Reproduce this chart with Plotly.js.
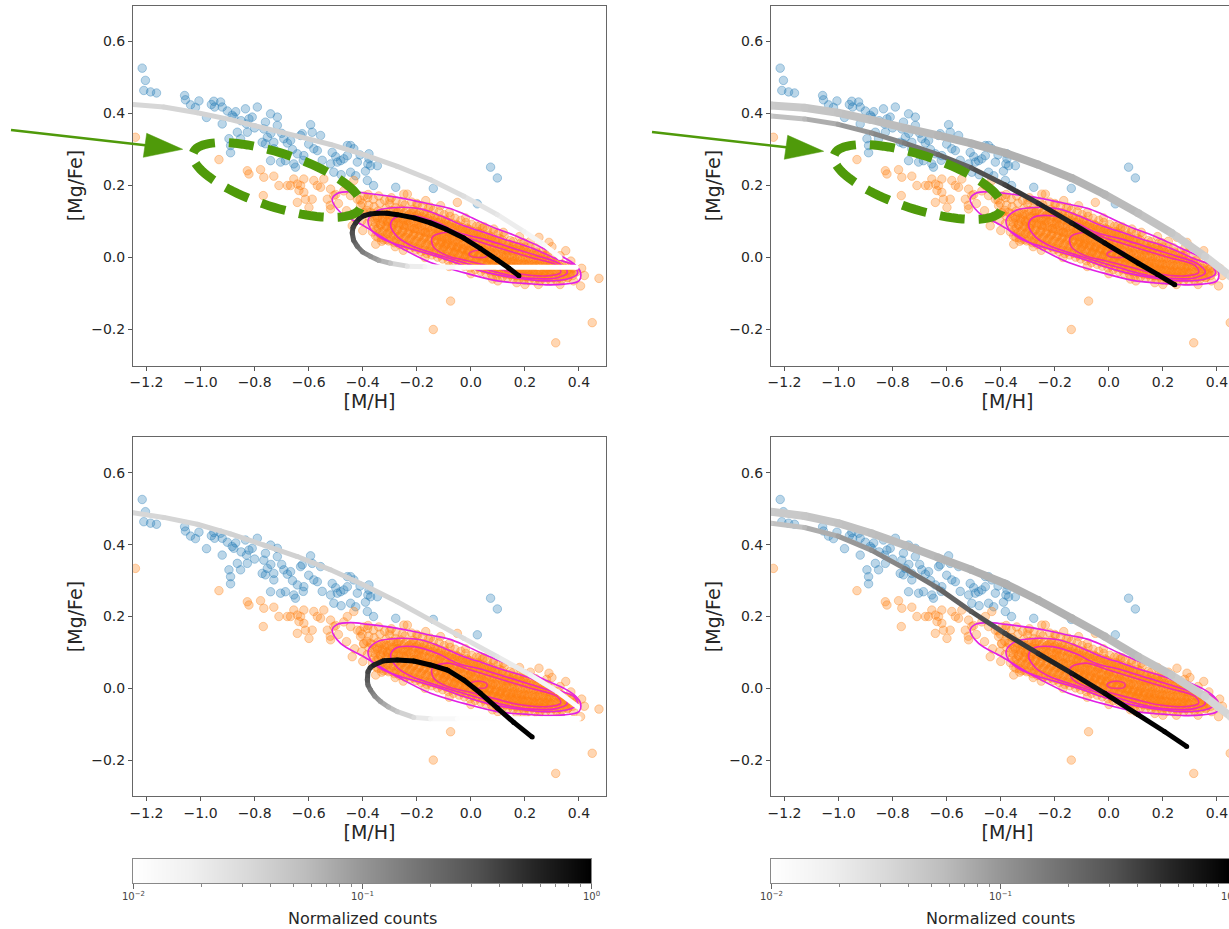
<!DOCTYPE html>
<html><head><meta charset="utf-8">
<script src="https://cdn.plot.ly/plotly-3.0.1.min.js"></script>
<style>html,body{margin:0;padding:0;overflow:hidden;background:#fff}#chart{width:1262px;height:929px}</style>
</head><body><div id="chart"></div>
<script>
// ---------------- data ----------------
const mhTickVals=[-1.2,-1.0,-0.8,-0.6,-0.4,-0.2,0.0,0.2,0.4];
const mhTickText=['−1.2','−1.0','−0.8','−0.6','−0.4','−0.2','0.0','0.2','0.4'];
const mgTickVals=[-0.2,0.0,0.2,0.4,0.6];
const mgTickText=['−0.2','0.0','0.2','0.4','0.6'];
const cbarExponents=[-2,0];
const cbarTickVals=[-2,-1,0];
const cbarTickText=['10<sup>−2</sup>','10<sup>−1</sup>','10<sup>0</sup>'];
const cbarMinorMantissas=[2,3,4,5,6,7,8,9];
const cbarTitle='Normalized counts';

// blue (alpha-rich) stars  [M/H], [Mg/Fe]
const bluePts=[[-1.216,0.526],[-1.204,0.492],[-1.21,0.464],[-1.185,0.46],[-1.163,0.457],[-1.059,0.45],[-1.056,0.438],[-1.037,0.424],[-1.019,0.417],[-1.006,0.435],[-0.978,0.389],[-0.951,0.434],[-0.948,0.418],[-0.926,0.432],[-0.92,0.418],[-0.901,0.407],[-0.883,0.395],[-0.877,0.39],[-0.92,0.371],[-0.834,0.413],[-0.821,0.385],[-0.809,0.39],[-0.79,0.418],[-0.83,0.371],[-0.827,0.348],[-0.852,0.33],[-0.864,0.348],[-0.895,0.33],[-0.889,0.311],[-0.889,0.291],[-0.76,0.376],[-0.741,0.399],[-0.716,0.39],[-0.766,0.357],[-0.753,0.334],[-0.772,0.32],[-0.76,0.316],[-0.729,0.32],[-0.716,0.367],[-0.692,0.33],[-0.679,0.318],[-0.667,0.325],[-0.729,0.302],[-0.741,0.269],[-0.704,0.265],[-0.686,0.269],[-0.655,0.26],[-0.649,0.251],[-0.642,0.288],[-0.618,0.283],[-0.63,0.339],[-0.624,0.344],[-0.593,0.369],[-0.587,0.348],[-0.581,0.302],[-0.568,0.297],[-0.556,0.339],[-0.513,0.292],[-0.519,0.26],[-0.507,0.237],[-0.494,0.265],[-0.482,0.269],[-0.47,0.274],[-0.457,0.283],[-0.457,0.311],[-0.445,0.311],[-0.433,0.302],[-0.42,0.265],[-0.445,0.237],[-0.426,0.227],[-0.377,0.288],[-0.377,0.274],[-0.381,0.26],[-0.371,0.255],[-0.346,0.255],[-0.383,0.214],[-0.278,0.195],[-0.139,0.192],[0.073,0.251],[0.098,0.221],[0.024,0.149],[-0.96,0.425],[-0.87,0.405],[-0.8,0.36],[-0.7,0.345],[-0.66,0.3],[-0.6,0.315],[-0.55,0.27],[-0.5,0.28],[-0.48,0.23],[-0.41,0.285],[-0.39,0.24],[-0.36,0.2],[-0.62,0.27],[-0.74,0.345],[-0.85,0.38]];

// orange (alpha-poor) stars, sparse part
const orangeSpread=[[-1.241,0.334],[-0.932,0.272],[-0.827,0.241],[-0.821,0.232],[-0.778,0.244],[-0.766,0.223],[-0.729,0.226],[-0.71,0.2],[-0.768,0.172],[-0.679,0.2],[-0.667,0.2],[-0.655,0.218],[-0.642,0.204],[-0.636,0.186],[-0.63,0.2],[-0.618,0.218],[-0.612,0.162],[-0.599,0.139],[-0.642,0.153],[-0.587,0.162],[-0.618,0.181],[-0.581,0.214],[-0.568,0.2],[-0.556,0.195],[-0.544,0.218],[-0.531,0.162],[-0.519,0.19],[-0.507,0.172],[-0.519,0.135],[-0.457,0.2],[-0.445,0.172],[-0.433,0.214],[-0.42,0.162],[-0.408,0.144],[-0.396,0.125],[-0.371,0.125],[-0.352,0.037],[-0.439,0.088],[-0.248,0.176],[-0.235,0.176],[-0.167,0.158],[-0.112,0.144],[-0.05,0.153],[-0.075,-0.121],[-0.139,-0.2],[0.034,0.088],[0.085,0.079],[0.252,0.056],[0.289,0.042],[0.351,0.019],[0.474,-0.058],[0.406,-0.079],[0.449,-0.181],[0.314,-0.237],[-0.47,0.185],[-0.49,0.15],[-0.46,0.13],[-0.43,0.11],[-0.41,0.16],[-0.38,0.175],[-0.3,0.16],[-0.2,0.15],[-0.15,0.14],[-0.08,0.125],[-0.02,0.11],[0.05,0.085],[0.12,0.07],[0.18,0.058],[0.22,0.045],[0.28,0.025],[0.33,0.005],[0.37,-0.01],[0.39,-0.04],[0.38,-0.065],[0.33,-0.075],[0.25,-0.075],[0.17,-0.07],[0.08,-0.06],[0.0,-0.045],[-0.08,-0.025],[-0.17,0.0],[-0.25,0.02],[-0.33,0.045],[-0.4,0.075],[0.42,-0.05],[0.41,-0.03],[-0.52,0.145],[-0.5,0.175],[0.3,0.03],[0.36,-0.055],[0.2,-0.075],[0.1,-0.065],[-0.28,0.03],[0.14,0.02]];

// orange stars, dense core (estimated)
const orangeCore=[
[-0.404,0.102],[-0.397,0.124],[-0.402,0.151],[-0.395,0.171],
[-0.383,0.094],[-0.377,0.113],[-0.385,0.131],[-0.378,0.146],[-0.382,0.166],
[-0.364,0.071],[-0.357,0.084],[-0.362,0.099],[-0.355,0.109],[-0.365,0.123],[-0.358,0.141],[-0.361,0.162],
[-0.344,0.056],[-0.337,0.067],[-0.342,0.081],[-0.335,0.092],[-0.345,0.106],[-0.338,0.116],[-0.343,0.129],[-0.336,0.151],[-0.341,0.171],
[-0.323,0.049],[-0.316,0.063],[-0.322,0.074],[-0.315,0.088],[-0.325,0.099],[-0.318,0.113],[-0.321,0.123],[-0.314,0.137],[-0.319,0.159],
[-0.304,0.046],[-0.297,0.057],[-0.302,0.071],[-0.295,0.082],[-0.305,0.096],[-0.298,0.106],[-0.303,0.12],[-0.296,0.13],[-0.301,0.149],[-0.294,0.166],
[-0.283,0.041],[-0.276,0.051],[-0.282,0.066],[-0.275,0.076],[-0.285,0.091],[-0.278,0.101],[-0.281,0.115],[-0.274,0.125],[-0.279,0.139],[-0.277,0.157],
[-0.264,0.036],[-0.257,0.047],[-0.262,0.061],[-0.255,0.071],[-0.265,0.086],[-0.258,0.096],[-0.263,0.111],[-0.256,0.121],[-0.261,0.135],[-0.254,0.151],
[-0.243,0.031],[-0.236,0.042],[-0.242,0.056],[-0.235,0.066],[-0.245,0.081],[-0.238,0.091],[-0.241,0.105],[-0.234,0.115],[-0.239,0.129],[-0.244,0.146],
[-0.224,0.026],[-0.217,0.037],[-0.222,0.051],[-0.215,0.061],[-0.225,0.075],[-0.218,0.085],[-0.223,0.099],[-0.216,0.109],[-0.221,0.123],[-0.214,0.134],[-0.219,0.154],
[-0.203,0.021],[-0.196,0.031],[-0.202,0.045],[-0.195,0.056],[-0.205,0.07],[-0.198,0.08],[-0.201,0.094],[-0.194,0.104],[-0.199,0.118],[-0.204,0.129],[-0.197,0.147],
[-0.184,0.016],[-0.177,0.027],[-0.182,0.041],[-0.175,0.051],[-0.185,0.065],[-0.178,0.075],[-0.183,0.089],[-0.176,0.099],[-0.181,0.113],[-0.174,0.124],[-0.179,0.143],
[-0.163,0.011],[-0.156,0.021],[-0.162,0.036],[-0.155,0.046],[-0.165,0.06],[-0.158,0.07],[-0.161,0.084],[-0.154,0.094],[-0.159,0.108],[-0.164,0.119],[-0.157,0.137],
[-0.144,0.007],[-0.137,0.017],[-0.142,0.031],[-0.135,0.041],[-0.145,0.055],[-0.138,0.065],[-0.143,0.079],[-0.136,0.089],[-0.141,0.103],[-0.134,0.114],[-0.139,0.131],
[-0.123,0.001],[-0.116,0.012],[-0.122,0.026],[-0.115,0.036],[-0.125,0.05],[-0.118,0.06],[-0.121,0.074],[-0.114,0.084],[-0.119,0.098],[-0.124,0.109],[-0.117,0.127],
[-0.104,-0.004],[-0.097,0.007],[-0.102,0.021],[-0.095,0.031],[-0.105,0.045],[-0.098,0.055],[-0.103,0.069],[-0.096,0.079],[-0.101,0.093],[-0.094,0.104],[-0.099,0.119],
[-0.083,-0.009],[-0.076,0.001],[-0.082,0.015],[-0.075,0.025],[-0.085,0.039],[-0.078,0.049],[-0.081,0.063],[-0.074,0.073],[-0.079,0.087],[-0.084,0.097],[-0.077,0.114],
[-0.064,-0.014],[-0.057,-0.004],[-0.062,0.01],[-0.055,0.02],[-0.065,0.034],[-0.058,0.044],[-0.063,0.058],[-0.056,0.068],[-0.061,0.082],[-0.054,0.092],[-0.059,0.109],
[-0.043,-0.019],[-0.036,-0.009],[-0.042,0.005],[-0.035,0.015],[-0.045,0.029],[-0.038,0.039],[-0.041,0.053],[-0.034,0.063],[-0.039,0.077],[-0.044,0.087],[-0.037,0.103],
[-0.024,-0.024],[-0.017,-0.014],[-0.022,0.0],[-0.015,0.01],[-0.025,0.024],[-0.018,0.034],[-0.023,0.048],[-0.016,0.058],[-0.021,0.072],[-0.014,0.082],[-0.019,0.097],
[-0.003,-0.029],[0.004,-0.019],[-0.002,-0.005],[0.005,0.005],[-0.005,0.019],[0.002,0.029],[-0.001,0.043],[0.006,0.053],[0.001,0.067],[-0.004,0.077],[0.003,0.092],
[0.016,-0.034],[0.023,-0.024],[0.018,-0.01],[0.025,0.0],[0.015,0.014],[0.022,0.024],[0.017,0.038],[0.024,0.048],[0.019,0.062],[0.026,0.072],[0.021,0.087],
[0.037,-0.039],[0.044,-0.029],[0.038,-0.015],[0.045,-0.005],[0.035,0.009],[0.042,0.019],[0.037,0.033],[0.044,0.043],[0.039,0.057],[0.036,0.067],[0.043,0.082],
[0.056,-0.044],[0.063,-0.034],[0.058,-0.02],[0.065,-0.01],[0.055,0.004],[0.062,0.014],[0.057,0.028],[0.064,0.038],[0.059,0.052],[0.066,0.062],[0.061,0.077],
[0.077,-0.047],[0.084,-0.037],[0.078,-0.023],[0.085,-0.013],[0.075,0.001],[0.082,0.011],[0.077,0.025],[0.084,0.035],[0.079,0.047],[0.076,0.057],[0.083,0.071],
[0.096,-0.051],[0.103,-0.041],[0.098,-0.027],[0.105,-0.017],[0.095,-0.003],[0.102,0.007],[0.097,0.021],[0.104,0.031],[0.099,0.043],[0.106,0.053],[0.101,0.067],
[0.117,-0.054],[0.124,-0.044],[0.118,-0.03],[0.125,-0.02],[0.115,-0.006],[0.122,0.004],[0.117,0.018],[0.124,0.028],[0.119,0.04],[0.116,0.049],[0.123,0.061],
[0.136,-0.057],[0.143,-0.047],[0.138,-0.033],[0.145,-0.023],[0.135,-0.009],[0.142,0.001],[0.137,0.015],[0.144,0.025],[0.139,0.037],[0.146,0.047],
[0.157,-0.059],[0.164,-0.049],[0.158,-0.035],[0.165,-0.025],[0.155,-0.011],[0.162,-0.001],[0.157,0.013],[0.164,0.023],[0.159,0.034],[0.156,0.044],
[0.176,-0.061],[0.183,-0.051],[0.178,-0.037],[0.185,-0.027],[0.175,-0.013],[0.182,-0.003],[0.177,0.011],[0.184,0.021],[0.179,0.031],[0.186,0.041],
[0.197,-0.063],[0.204,-0.053],[0.198,-0.039],[0.205,-0.029],[0.195,-0.015],[0.202,-0.005],[0.197,0.009],[0.204,0.019],[0.199,0.029],[0.196,0.041],
[0.216,-0.064],[0.223,-0.054],[0.218,-0.04],[0.225,-0.03],[0.215,-0.016],[0.222,-0.006],[0.217,0.008],[0.224,0.017],[0.219,0.029],
[0.237,-0.065],[0.244,-0.055],[0.238,-0.041],[0.245,-0.031],[0.235,-0.017],[0.242,-0.007],[0.237,0.007],[0.244,0.015],[0.239,0.027],
[0.256,-0.065],[0.263,-0.055],[0.258,-0.041],[0.265,-0.031],[0.255,-0.017],[0.262,-0.007],[0.257,0.006],[0.264,0.015],
[0.277,-0.065],[0.284,-0.056],[0.278,-0.042],[0.285,-0.032],[0.275,-0.019],[0.282,-0.009],[0.277,0.005],[0.284,0.011],
[0.296,-0.065],[0.303,-0.056],[0.298,-0.043],[0.305,-0.034],[0.295,-0.021],[0.302,-0.012],[0.297,0.001],
[0.317,-0.063],[0.324,-0.054],[0.318,-0.041],[0.325,-0.032],[0.315,-0.019],[0.322,-0.009],
[0.336,-0.061],[0.343,-0.052],[0.338,-0.039],[0.345,-0.03],[0.335,-0.017],
[0.357,-0.057],[0.364,-0.048],[0.358,-0.035],[0.365,-0.026],
[0.377,-0.05],[0.384,-0.039],[0.378,-0.029],
[-0.13,0.06],[-0.11,0.05],[-0.09,0.045],[-0.07,0.04],[-0.05,0.03],[-0.03,0.025],[-0.01,0.02],[0.01,0.012],[0.03,0.005],[0.05,0.0],[0.07,-0.005],[0.09,-0.01],[0.11,-0.015],[0.13,-0.02],[0.15,-0.025],[0.17,-0.028],[0.19,-0.032],[0.21,-0.036],[0.23,-0.04],[0.25,-0.042],[0.27,-0.045],[0.29,-0.046],
[-0.12,0.08],[-0.08,0.07],[-0.04,0.055],[0.0,0.04],[0.04,0.025],[0.08,0.01],[0.12,0.0],[0.16,-0.01],[0.2,-0.018],[0.24,-0.024],[0.28,-0.03],
[-0.1,0.03],[-0.06,0.015],[-0.02,0.005],[0.02,-0.01],[0.06,-0.02],[0.1,-0.03],[0.14,-0.038],[0.18,-0.044],[0.22,-0.05],[0.26,-0.054],
[-0.25,0.09],[-0.21,0.08],[-0.17,0.07],[-0.23,0.11],[-0.19,0.1],[-0.27,0.11],[-0.29,0.09],[-0.31,0.1]];

// orange stars, innermost high-density part (estimated)
const orangeCoreInner=[
[-0.352,0.06],[-0.348,0.078],[-0.353,0.095],[-0.347,0.112],
[-0.331,0.055],[-0.327,0.072],[-0.333,0.09],[-0.328,0.107],[-0.332,0.124],
[-0.312,0.05],[-0.307,0.067],[-0.311,0.085],[-0.308,0.102],[-0.313,0.12],
[-0.291,0.046],[-0.287,0.063],[-0.292,0.08],[-0.288,0.097],[-0.29,0.114],[-0.286,0.13],
[-0.272,0.042],[-0.267,0.059],[-0.271,0.076],[-0.268,0.093],[-0.273,0.11],[-0.269,0.127],
[-0.251,0.038],[-0.247,0.055],[-0.252,0.072],[-0.248,0.089],[-0.25,0.106],[-0.246,0.123],
[-0.232,0.034],[-0.227,0.051],[-0.231,0.068],[-0.228,0.085],[-0.233,0.102],[-0.229,0.119],
[-0.211,0.029],[-0.207,0.046],[-0.212,0.063],[-0.208,0.08],[-0.21,0.097],[-0.206,0.114],[-0.211,0.128],
[-0.192,0.024],[-0.187,0.041],[-0.191,0.058],[-0.188,0.075],[-0.193,0.092],[-0.189,0.109],[-0.19,0.124],
[-0.171,0.02],[-0.167,0.037],[-0.172,0.054],[-0.168,0.071],[-0.17,0.088],[-0.166,0.105],[-0.171,0.12],
[-0.152,0.016],[-0.147,0.033],[-0.151,0.05],[-0.148,0.067],[-0.153,0.084],[-0.149,0.101],[-0.15,0.116],
[-0.131,0.012],[-0.127,0.029],[-0.132,0.046],[-0.128,0.063],[-0.13,0.08],[-0.126,0.097],[-0.131,0.111],
[-0.112,0.007],[-0.107,0.024],[-0.111,0.041],[-0.108,0.058],[-0.113,0.075],[-0.109,0.092],[-0.11,0.106],
[-0.091,0.003],[-0.087,0.02],[-0.092,0.037],[-0.088,0.054],[-0.09,0.071],[-0.086,0.088],[-0.091,0.1],
[-0.072,-0.002],[-0.067,0.015],[-0.071,0.032],[-0.068,0.049],[-0.073,0.066],[-0.069,0.083],[-0.07,0.095],
[-0.051,-0.007],[-0.047,0.01],[-0.052,0.027],[-0.048,0.044],[-0.05,0.061],[-0.046,0.078],[-0.051,0.089],
[-0.032,-0.012],[-0.027,0.005],[-0.031,0.022],[-0.028,0.039],[-0.033,0.056],[-0.029,0.073],[-0.03,0.083],
[-0.011,-0.017],[-0.007,0.0],[-0.012,0.017],[-0.008,0.034],[-0.01,0.051],[-0.006,0.068],[-0.011,0.078],
[0.008,-0.022],[0.013,-0.005],[0.009,0.012],[0.012,0.029],[0.007,0.046],[0.011,0.063],[0.01,0.072],
[0.029,-0.027],[0.033,-0.01],[0.028,0.007],[0.032,0.024],[0.03,0.041],[0.034,0.058],[0.029,0.067],
[0.048,-0.032],[0.053,-0.015],[0.049,0.002],[0.052,0.019],[0.047,0.036],[0.051,0.053],[0.05,0.062],
[0.069,-0.036],[0.073,-0.019],[0.068,-0.002],[0.072,0.015],[0.07,0.032],[0.074,0.049],[0.069,0.056],
[0.088,-0.04],[0.093,-0.023],[0.089,-0.006],[0.092,0.011],[0.087,0.028],[0.091,0.044],[0.09,0.05],
[0.109,-0.043],[0.113,-0.026],[0.108,-0.009],[0.112,0.008],[0.11,0.025],[0.114,0.04],
[0.128,-0.046],[0.133,-0.029],[0.129,-0.012],[0.132,0.005],[0.127,0.022],[0.131,0.036],
[0.149,-0.048],[0.153,-0.031],[0.148,-0.014],[0.152,0.003],[0.15,0.02],[0.154,0.032],
[0.168,-0.05],[0.173,-0.033],[0.169,-0.016],[0.172,0.001],[0.167,0.018],[0.171,0.028],
[0.189,-0.052],[0.193,-0.035],[0.188,-0.018],[0.192,-0.001],[0.19,0.016],[0.194,0.025],
[0.208,-0.053],[0.213,-0.036],[0.209,-0.019],[0.212,-0.002],[0.207,0.014],
[0.229,-0.054],[0.233,-0.037],[0.228,-0.02],[0.232,-0.003],[0.23,0.012],
[0.248,-0.055],[0.253,-0.038],[0.249,-0.021],[0.252,-0.004],[0.247,0.009],
[0.269,-0.056],[0.273,-0.039],[0.268,-0.022],[0.272,-0.006],[0.27,0.004],
[0.288,-0.056],[0.293,-0.04],[0.289,-0.024],[0.292,-0.009],
[0.309,-0.056],[0.313,-0.04],[0.308,-0.025],[0.312,-0.011],
[0.328,-0.055],[0.333,-0.04],[0.329,-0.025],
[0.349,-0.052],[0.353,-0.038],[0.348,-0.025],
[0.368,-0.045],[0.372,-0.032]];

// KDE contour levels of the orange stars (outer -> inner)
const kde1=[[-0.513,0.162],[-0.494,0.178],[-0.445,0.183],[-0.38,0.178],[-0.272,0.167],[-0.211,0.158],[-0.149,0.148],[-0.08,0.137],[-0.026,0.121],[0.036,0.099],[0.098,0.079],[0.16,0.062],[0.221,0.042],[0.29,0.018],[0.344,0.0],[0.385,-0.02],[0.406,-0.042],[0.4,-0.065],[0.345,-0.074],[0.283,-0.076],[0.2,-0.072],[0.098,-0.065],[-0.026,-0.042],[-0.149,-0.014],[-0.272,0.032],[-0.34,0.062],[-0.396,0.088],[-0.482,0.125],[-0.513,0.162]];
const kde2=[[-0.38,0.104],[-0.346,0.13],[-0.272,0.139],[-0.186,0.135],[-0.112,0.116],[-0.026,0.088],[0.048,0.07],[0.122,0.051],[0.221,0.028],[0.32,-0.005],[0.382,-0.023],[0.394,-0.046],[0.357,-0.06],[0.271,-0.065],[0.159,-0.056],[0.061,-0.042],[-0.026,-0.023],[-0.112,0.0],[-0.198,0.019],[-0.272,0.036],[-0.334,0.055],[-0.371,0.079],[-0.38,0.104]];
const kde3=[[-0.297,0.09],[-0.28,0.111],[-0.21,0.116],[-0.124,0.097],[-0.05,0.07],[0.048,0.051],[0.147,0.028],[0.246,0.005],[0.332,-0.019],[0.357,-0.042],[0.32,-0.056],[0.221,-0.058],[0.122,-0.046],[0.036,-0.028],[-0.05,-0.009],[-0.149,0.014],[-0.223,0.034],[-0.272,0.058],[-0.297,0.09]];
const kde4=[[-0.143,0.056],[-0.087,0.07],[-0.001,0.051],[0.098,0.028],[0.221,0.0],[0.32,-0.023],[0.332,-0.042],[0.283,-0.051],[0.184,-0.046],[0.085,-0.028],[-0.013,-0.009],[-0.087,0.005],[-0.137,0.028],[-0.143,0.056]];
const kde5=[[-0.007,0.01],[0.01,0.018],[0.04,0.019],[0.06,0.012],[0.055,0.002],[0.025,0.0],[0.0,0.003],[-0.007,0.01]];

// model tracks: x=[M/H], y=[Mg/Fe], c=normalized counts
const tlUpperX=[-1.25,-1.136,-1.012,-0.889,-0.766,-0.642,-0.519,-0.396,-0.272,-0.149,-0.026,0.098,0.197,0.271,0.33];
const tlUpperY=[0.425,0.418,0.402,0.383,0.36,0.337,0.314,0.286,0.253,0.216,0.17,0.119,0.072,0.035,0.0];
const tlUpperC=[0.032,0.034,0.035,0.036,0.037,0.037,0.037,0.036,0.035,0.032,0.028,0.022,0.017,0.013,0.01];
const tlLoopX=[0.39,0.25,0.10,-0.05,-0.17,-0.235,-0.297,-0.34,-0.371,-0.40,-0.42,-0.434,-0.439,-0.436,-0.426,-0.413,-0.396,-0.372,-0.346,-0.31,-0.272,-0.21,-0.149,-0.09,-0.026,0.035,0.098,0.14,0.178];
const tlLoopY=[-0.027,-0.027,-0.027,-0.027,-0.026,-0.024,-0.016,-0.008,0.003,0.015,0.031,0.048,0.068,0.084,0.096,0.108,0.116,0.121,0.123,0.123,0.119,0.11,0.096,0.078,0.054,0.025,-0.007,-0.029,-0.051];
const tlLoopC=[0.01,0.01,0.01,0.011,0.015,0.025,0.05,0.08,0.11,0.15,0.2,0.26,0.32,0.4,0.48,0.58,0.68,0.78,0.87,0.93,1,1,1,1,1,1,1,1,1];

const trUpperX=[-1.25,-1.126,-1.002,-0.879,-0.756,-0.632,-0.509,-0.385,-0.262,-0.138,-0.015,0.109,0.232,0.356,0.451,0.52];
const trUpperY=[0.422,0.416,0.402,0.382,0.36,0.339,0.317,0.291,0.258,0.221,0.175,0.123,0.068,0.003,-0.053,-0.1];
const trUpperC=[0.042,0.046,0.05,0.054,0.058,0.062,0.066,0.068,0.068,0.066,0.062,0.055,0.047,0.038,0.03,0.025];
const trMidX=[-1.25,-1.126,-1.002,-0.879,-0.756,-0.632,-0.509,-0.385,-0.262,-0.138,-0.015,0.109,0.18,0.244];
const trMidY=[0.393,0.385,0.37,0.346,0.318,0.286,0.249,0.202,0.151,0.096,0.04,-0.016,-0.047,-0.076];
const trMidC=[0.045,0.06,0.085,0.11,0.15,0.2,0.28,0.38,0.5,0.7,0.9,1,1,1];

const blUpperX=[-1.25,-1.136,-1.012,-0.889,-0.766,-0.642,-0.519,-0.396,-0.272,-0.149,-0.026,0.098,0.221,0.32,0.394];
const blUpperY=[0.489,0.476,0.457,0.43,0.399,0.367,0.33,0.288,0.241,0.19,0.139,0.088,0.037,-0.009,-0.051];
const blUpperC=[0.032,0.034,0.035,0.036,0.037,0.037,0.037,0.036,0.035,0.033,0.029,0.024,0.018,0.013,0.01];
const blLoopX=[0.40,0.25,0.10,-0.05,-0.149,-0.211,-0.272,-0.305,-0.334,-0.355,-0.371,-0.381,-0.383,-0.381,-0.372,-0.359,-0.322,-0.272,-0.211,-0.149,-0.087,-0.026,0.036,0.098,0.159,0.227];
const blLoopY=[-0.084,-0.085,-0.085,-0.085,-0.085,-0.081,-0.065,-0.052,-0.037,-0.022,-0.005,0.009,0.023,0.046,0.058,0.065,0.077,0.079,0.076,0.065,0.051,0.023,-0.014,-0.055,-0.095,-0.136];
const blLoopC=[0.01,0.01,0.01,0.011,0.015,0.03,0.045,0.065,0.09,0.12,0.16,0.22,0.28,0.38,0.48,0.6,0.75,0.9,1,1,1,1,1,1,1,1];

const brUpperX=[-1.25,-1.126,-1.002,-0.879,-0.756,-0.632,-0.509,-0.385,-0.262,-0.138,-0.015,0.109,0.232,0.356,0.451,0.52];
const brUpperY=[0.492,0.48,0.46,0.432,0.399,0.364,0.33,0.292,0.246,0.195,0.144,0.088,0.037,-0.023,-0.079,-0.125];
const brUpperC=[0.042,0.046,0.05,0.054,0.058,0.062,0.066,0.068,0.068,0.066,0.062,0.055,0.047,0.038,0.03,0.025];
const brMidX=[-1.25,-1.126,-1.002,-0.879,-0.756,-0.632,-0.509,-0.385,-0.262,-0.138,-0.015,0.109,0.207,0.288];
const brMidY=[0.46,0.448,0.424,0.385,0.334,0.279,0.214,0.153,0.097,0.042,-0.014,-0.074,-0.121,-0.162];
const brMidC=[0.045,0.06,0.085,0.11,0.15,0.2,0.28,0.38,0.5,0.7,0.9,1,1,1];

// ---------------- styling / helpers ----------------
const W=1262,H=929;
const FONT='DejaVu Sans';
const GREEN='#4f9a0a';
const greysStops=[[0,255],[0.125,240],[0.25,217],[0.375,189],[0.5,150],[0.625,115],[0.75,82],[0.875,37],[1,0]];
const greysScale=greysStops.map(s=>[s[0],`rgb(${s[1]},${s[1]},${s[1]})`]);
function greyFor(c){
  let t=(Math.log10(c)+2)/2; t=Math.max(0,Math.min(1,t));
  for(let i=1;i<greysStops.length;i++){
    if(t<=greysStops[i][0]){
      const [t0,g0]=greysStops[i-1],[t1,g1]=greysStops[i];
      const g=Math.round(g0+(g1-g0)*(t-t0)/(t1-t0));
      return `rgb(${g},${g},${g})`;
    }
  }
  return 'rgb(0,0,0)';
}
const contourColors=['#e11fe6','#e923d4','#f027b8','#f42e9e','#f63a88'];
const kdeLevels=[kde1,kde2,kde3,kde4,kde5];

function panelTraces(xa,ya,curves){
  const tr=[];
  tr.push({type:'scatter',mode:'markers',x:bluePts.map(p=>p[0]),y:bluePts.map(p=>p[1]),xaxis:xa,yaxis:ya,
    marker:{size:8.5,color:'rgba(31,119,180,0.3)',line:{color:'rgba(31,119,180,0.35)',width:1}},hoverinfo:'skip'});
  const oAll=orangeSpread.concat(orangeCore,orangeCoreInner);
  tr.push({type:'scatter',mode:'markers',x:oAll.map(p=>p[0]),y:oAll.map(p=>p[1]),xaxis:xa,yaxis:ya,
    marker:{size:8.5,color:'rgba(255,127,14,0.32)',line:{color:'rgba(255,127,14,0.34)',width:1}},hoverinfo:'skip'});
  kdeLevels.forEach((lv,i)=>{
    tr.push({type:'scatter',mode:'lines',x:lv.map(p=>p[0]),y:lv.map(p=>p[1]),xaxis:xa,yaxis:ya,
      line:{color:contourColors[i],width:1.6,shape:'spline',smoothing:1},hoverinfo:'skip'});
  });
  curves.forEach(cv=>{
    const [xs,ys,cs,w]=cv;
    for(let i=0;i<xs.length-1;i++){
      tr.push({type:'scatter',mode:'lines',x:[xs[i],xs[i+1]],y:[ys[i],ys[i+1]],xaxis:xa,yaxis:ya,
        line:{color:greyFor(Math.sqrt(cs[i]*cs[i+1])),width:w},hoverinfo:'skip'});
    }
    tr.push({type:'scatter',mode:'markers',x:xs,y:ys,xaxis:xa,yaxis:ya,
      marker:{size:w,color:cs.map(greyFor),line:{width:0}},hoverinfo:'skip'});
  });
  return tr;
}

let data=[];
data=data.concat(panelTraces('x','y',[[tlUpperX,tlUpperY,tlUpperC,5],[tlLoopX,tlLoopY,tlLoopC,5]]));
data=data.concat(panelTraces('x2','y2',[[trUpperX,trUpperY,trUpperC,8],[trMidX,trMidY,trMidC,5]]));
data=data.concat(panelTraces('x3','y3',[[blUpperX,blUpperY,blUpperC,5],[blLoopX,blLoopY,blLoopC,5]]));
data=data.concat(panelTraces('x4','y4',[[brUpperX,brUpperY,brUpperC,8],[brMidX,brMidY,brMidC,5]]));
['x5','x6'].forEach((xa,i)=>{
  data.push({type:'heatmap',x:cbarExponents,y:[0.5],z:[cbarExponents],xaxis:xa,yaxis:i?'y6':'y5',
    colorscale:greysScale,zmin:-2,zmax:0,zsmooth:'best',showscale:false,hoverinfo:'skip'});
});
data.forEach(t=>{t.showlegend=false;});

const colX=[[133/W,606/W],[771/W,1244/W]];
const rowY=[[1-365.5/H,1-5.5/H],[1-796/H,1-437/H]];
const tickFont={family:FONT,size:14,color:'#262626'};
const titleFont={family:FONT,size:19,color:'#262626'};
function xMain(dom,anchor){return {domain:dom,anchor:anchor,range:[-1.25,0.5],tickmode:'array',tickvals:mhTickVals,ticktext:mhTickText,
  ticks:'outside',ticklen:4,tickwidth:1,tickcolor:'#555',showline:true,mirror:true,linecolor:'#666',linewidth:1,
  showgrid:false,zeroline:false,tickfont:tickFont,title:{text:'[M/H]',font:titleFont,standoff:1},automargin:false,fixedrange:true};}
function yMain(dom,anchor){return {domain:dom,anchor:anchor,range:[-0.3,0.7],tickmode:'array',tickvals:mgTickVals,ticktext:mgTickText,
  ticks:'outside',ticklen:4,tickwidth:1,tickcolor:'#555',showline:true,mirror:true,linecolor:'#666',linewidth:1,
  showgrid:false,zeroline:false,tickfont:tickFont,title:{text:'[Mg/Fe]',font:titleFont,standoff:3},automargin:false,fixedrange:true};}
const cbMinor=[];
[-2,-1].forEach(e=>cbarMinorMantissas.forEach(m=>cbMinor.push(e+Math.log10(m))));
function xCbar(dom,anchor){return {domain:dom,anchor:anchor,range:[-2,0],tickmode:'array',tickvals:cbarTickVals,showticklabels:false,
  ticks:'outside',ticklen:5,tickwidth:1,tickcolor:'#666',showline:true,mirror:true,linecolor:'#888',linewidth:1,
  minor:{tickmode:'array',tickvals:cbMinor,ticks:'outside',ticklen:2.5,tickwidth:1,tickcolor:'#888',showgrid:false},
  showgrid:false,zeroline:false,automargin:false,fixedrange:true};}
function yCbar(dom,anchor){return {domain:dom,anchor:anchor,range:[0,1],showticklabels:false,ticks:'',showline:true,mirror:true,
  linecolor:'#888',linewidth:1,showgrid:false,zeroline:false,automargin:false,fixedrange:true};}
const cbY=[1-883/H,1-859/H];

// colorbar labels and titles placed under each bar (tick labels in the colorbar's own axis units)
const annotations=[];
[['x5',362],['x6',1000]].forEach(([xa,cx])=>{
  cbarTickVals.forEach((v,i)=>{
    annotations.push({xref:xa,yref:'paper',x:v,y:1-896/H,text:cbarTickText[i],showarrow:false,xanchor:'center',yanchor:'middle',
      font:{family:FONT,size:10,color:'#444'}});
  });
  annotations.push({xref:'paper',yref:'paper',x:cx/W,y:1-918/H,text:cbarTitle,showarrow:false,xanchor:'center',yanchor:'middle',
    font:{family:FONT,size:16,color:'#262626'}});
});

// ---------- annotation shapes (green arrows + dashed ellipses), pixel based ----------
const px=x=>x/W, py=y=>1-y/H;
function pathOf(pts,close){return pts.map((p,i)=>(i?'L':'M')+px(p[0]).toFixed(5)+','+py(p[1]).toFixed(5)).join(' ')+(close?' Z':'');}
function ellipsePts(cx,cy,a,b,phiDeg){
  const phi=phiDeg*Math.PI/180, pts=[];
  for(let k=0;k<=96;k++){const th=Math.PI+2*Math.PI*k/96;
    pts.push([cx+a*Math.cos(th)*Math.cos(phi)-b*Math.sin(th)*Math.sin(phi), cy+a*Math.cos(th)*Math.sin(phi)+b*Math.sin(th)*Math.cos(phi)]);}
  return pts;
}
const shapes=[];
[[0,0],[641,2]].forEach(([dx,dy])=>{
  shapes.push({type:'path',xref:'paper',yref:'paper',path:pathOf(ellipsePts(277+dx,180+dy,88,27,18),false),
    line:{color:GREEN,width:9,dash:'25px,14px'},fillcolor:'rgba(0,0,0,0)'});
  shapes.push({type:'line',xref:'paper',yref:'paper',x0:px(11+dx),y0:py(130+dy),x1:px(152+dx),y1:py(146+dy),line:{color:GREEN,width:2.5}});
  shapes.push({type:'path',xref:'paper',yref:'paper',path:pathOf([[146.7+dx,133.3+dy],[143.3+dx,157.3+dy],[182.7+dx,149.3+dy]],true),
    line:{color:GREEN,width:0.5},fillcolor:GREEN});
});

const layout={width:W,height:H,margin:{l:0,r:0,t:0,b:0},paper_bgcolor:'#fff',plot_bgcolor:'#fff',showlegend:false,hovermode:false,
  font:{family:FONT,color:'#262626'},
  xaxis:xMain(colX[0],'y'),yaxis:yMain(rowY[0],'x'),
  xaxis2:xMain(colX[1],'y2'),yaxis2:yMain(rowY[0],'x2'),
  xaxis3:xMain(colX[0],'y3'),yaxis3:yMain(rowY[1],'x3'),
  xaxis4:xMain(colX[1],'y4'),yaxis4:yMain(rowY[1],'x4'),
  xaxis5:xCbar([133/W,591/W],'y5'),yaxis5:yCbar(cbY,'x5'),
  xaxis6:xCbar([771/W,1229/W],'y6'),yaxis6:yCbar(cbY,'x6'),
  shapes:shapes,annotations:annotations};
Plotly.newPlot('chart',data,layout,{staticPlot:true,displayModeBar:false});
</script></body></html>
